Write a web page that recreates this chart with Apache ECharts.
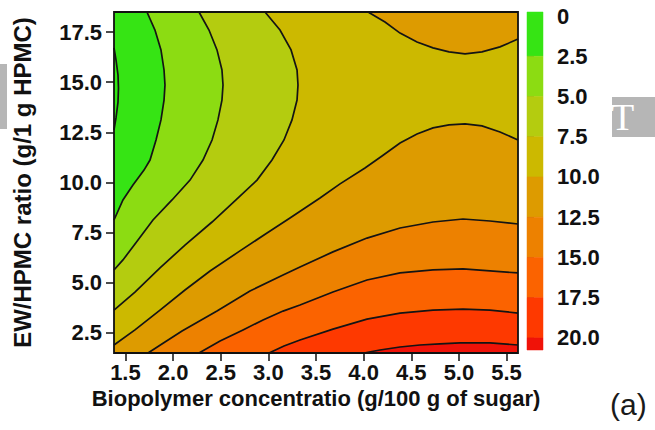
<!DOCTYPE html>
<html>
<head>
<meta charset="utf-8">
<script src="https://cdn.jsdelivr.net/npm/echarts@6/dist/echarts.min.js"></script>
<style>
  html, body { margin: 0; padding: 0; background: #ffffff; }
  #chart { width: 655px; height: 430px; }
</style>
</head>
<body>
<div id="chart"></div>
<script>
// Design space of the response surface
const X_MIN = 1.38, X_MAX = 5.62;
const Y_MIN = 1.5, Y_MAX = 18.5;
// Colour scale extent
const CB_MIN = -0.25, CB_MAX = 20.75;

const xTicks = [1.5, 2.0, 2.5, 3.0, 3.5, 4.0, 4.5, 5.0, 5.5];
const yTicks = [2.5, 5.0, 7.5, 10.0, 12.5, 15.0, 17.5];
const levels = [0, 2.5, 5.0, 7.5, 10.0, 12.5, 15.0, 17.5, 20.0];

// Band colours: below 0, 0-2.5, ..., 17.5-20, above 20
const bandColors = ['#33e814', '#36e414', '#8cdc12', '#b4cc0f', '#ccb900', '#dd9b00',
                    '#ed8100', '#fb6300', '#fe3900', '#f01208'];

// Iso-lines [biopolymer conc., EW/HPMC ratio]
const contour0 = [[1.38, 16.71], [1.401, 16.11], [1.422, 15.36], [1.427, 14.71], [1.422, 14.01],
  [1.401, 13.22], [1.38, 12.62]];
const contour2_5 = [[1.726, 18.5], [1.810, 17.60], [1.873, 16.61], [1.905, 15.61], [1.915, 14.86],
  [1.905, 14.11], [1.873, 13.12], [1.821, 12.12], [1.758, 11.12], [1.695, 10.62], [1.579, 9.88],
  [1.474, 9.13], [1.38, 8.13]];
const contour5 = [[2.272, 18.5], [2.377, 17.60], [2.461, 16.61], [2.513, 15.61], [2.524, 14.86],
  [2.513, 14.11], [2.471, 13.12], [2.409, 12.12], [2.314, 11.12], [2.178, 10.12], [1.989, 9.13],
  [1.789, 8.13], [1.632, 7.13], [1.474, 6.14], [1.38, 5.64]];
const contour7_5 = [[2.965, 18.5], [3.122, 17.60], [3.238, 16.61], [3.301, 15.61], [3.311, 14.86],
  [3.301, 14.11], [3.248, 13.12], [3.164, 12.12], [3.038, 11.12], [2.881, 10.12], [2.660, 9.13],
  [2.409, 8.03], [2.125, 6.88], [1.863, 5.74], [1.600, 4.54], [1.38, 3.64]];
const contour10Top = [[4.046, 18.5], [4.224, 18.00], [4.382, 17.45], [4.560, 17.00], [4.728, 16.71],
  [4.896, 16.51], [5.064, 16.41], [5.242, 16.51], [5.431, 16.76], [5.62, 17.15]];
const contour10Bottom = [[5.62, 12.12], [5.431, 12.52], [5.242, 12.82], [5.064, 12.92], [4.896, 12.87],
  [4.728, 12.72], [4.560, 12.42], [4.382, 11.97], [4.193, 11.32], [4.014, 10.72], [3.752, 9.93],
  [3.542, 9.23], [3.227, 8.23], [2.986, 7.48], [2.702, 6.59], [2.388, 5.59], [2.125, 4.64],
  [1.863, 3.64], [1.600, 2.65], [1.38, 1.90]];
const contour12_5 = [[5.62, 7.93], [5.326, 8.08], [5.043, 8.18], [4.728, 8.03], [4.382, 7.73],
  [4.035, 7.23], [3.678, 6.54], [3.332, 5.79], [3.154, 5.39], [2.807, 4.59], [2.461, 3.59],
  [2.094, 2.60], [1.915, 2.05], [1.737, 1.5]];
const contour15 = [[5.62, 5.49], [5.326, 5.59], [5.043, 5.69], [4.728, 5.64], [4.382, 5.49],
  [4.035, 5.14], [3.678, 4.54], [3.332, 3.89], [3.154, 3.59], [2.944, 3.15], [2.734, 2.65],
  [2.493, 2.10], [2.272, 1.5]];
const contour17_5 = [[5.62, 3.49], [5.326, 3.64], [5.043, 3.69], [4.728, 3.64], [4.382, 3.49],
  [4.035, 3.19], [3.678, 2.69], [3.332, 2.15], [3.164, 1.85], [3.007, 1.5]];
const contour20 = [[5.62, 1.90], [5.326, 2.00], [5.011, 2.00], [4.801, 1.95], [4.591, 1.90],
  [4.382, 1.80], [4.172, 1.65], [4.004, 1.5]];

const FONT = '"Liberation Sans", Arial, Helvetica, sans-serif';
const INK = '#111111';

const TL = [X_MIN, Y_MAX], TR = [X_MAX, Y_MAX], BR = [X_MAX, Y_MIN], BL = [X_MIN, Y_MIN];

// Filled bands, painted from low to high values (each region is {z > level})
const regions = [
  { band: 1, pts: [TL, TR, BR, BL] },
  { band: 0, pts: contour0 },
  { band: 2, pts: contour2_5.concat([BL, BR, TR]) },
  { band: 3, pts: contour5.concat([BL, BR, TR]) },
  { band: 4, pts: contour7_5.concat([BL, BR, TR]) },
  { band: 5, pts: contour10Top.concat([TR]) },
  { band: 5, pts: contour10Bottom.concat([BL, BR]) },
  { band: 6, pts: contour12_5.concat([BR]) },
  { band: 7, pts: contour15.concat([BR]) },
  { band: 8, pts: contour17_5.concat([BR]) },
  { band: 9, pts: contour20.concat([BR]) }
];
const isoLines = [contour0, contour2_5, contour5, contour7_5, contour10Top, contour10Bottom,
  contour12_5, contour15, contour17_5, contour20];

// Colour-bar segments between consecutive levels
const barEdges = [CB_MIN].concat(levels, [CB_MAX]);
const barBands = bandColors.map((c, i) => [0, barEdges[i], barEdges[i + 1]]);

const labelStyle = { fontFamily: FONT, fontWeight: 'bold', fontSize: 22, color: INK };

const chart = echarts.init(document.getElementById('chart'), null, { renderer: 'svg' });

chart.setOption({
  animation: false,
  backgroundColor: '#ffffff',
  grid: [
    { left: 114, top: 12, width: 404, height: 341 },
    { left: 527, top: 12, width: 16, height: 338 }
  ],
  xAxis: [
    {
      gridIndex: 0, type: 'value', min: X_MIN, max: X_MAX,
      name: 'Biopolymer concentratio (g/100 g of sugar)',
      nameLocation: 'middle', nameGap: 32,
      nameTextStyle: { fontFamily: FONT, fontWeight: 'bold', fontSize: 22, color: INK },
      axisLine: { show: false },
      axisTick: { show: true, length: 8, customValues: xTicks, lineStyle: { color: INK, width: 1.5 } },
      axisLabel: Object.assign({ customValues: xTicks, margin: 8, formatter: v => v.toFixed(1) }, labelStyle),
      splitLine: { show: false }
    },
    { gridIndex: 1, type: 'value', min: 0, max: 1, show: false }
  ],
  yAxis: [
    {
      gridIndex: 0, type: 'value', min: Y_MIN, max: Y_MAX,
      name: 'EW/HPMC ratio (g/1 g HPMC)',
      nameLocation: 'middle', nameGap: 80,
      nameTextStyle: { fontFamily: FONT, fontWeight: 'bold', fontSize: 24, color: INK },
      axisLine: { show: false },
      axisTick: { show: true, length: 8, customValues: yTicks, lineStyle: { color: INK, width: 1.5 } },
      axisLabel: Object.assign({ customValues: yTicks, margin: 12, formatter: v => v.toFixed(1) }, labelStyle),
      splitLine: { show: false }
    },
    {
      gridIndex: 1, type: 'value', inverse: true, min: CB_MIN, max: CB_MAX, position: 'right',
      axisLine: { show: false },
      axisTick: { show: true, length: 7, customValues: levels, lineStyle: { color: INK, width: 1.5 } },
      axisLabel: Object.assign({ customValues: levels, margin: 14,
        formatter: v => (v === 0 ? '0' : v.toFixed(1)) }, labelStyle),
      splitLine: { show: false }
    }
  ],
  series: [
    {
      name: 'bands', type: 'custom', xAxisIndex: 0, yAxisIndex: 0, silent: true, clip: true,
      data: regions.map((r, i) => [X_MIN, Y_MIN, i]),
      renderItem: (params, api) => {
        const r = regions[params.dataIndex];
        const c = bandColors[r.band];
        return {
          type: 'polygon',
          shape: { points: r.pts.map(p => api.coord(p)) },
          style: { fill: c, stroke: c, lineWidth: 0.6 }
        };
      }
    },
    {
      name: 'contours', type: 'custom', xAxisIndex: 0, yAxisIndex: 0, silent: true, clip: false,
      data: isoLines.map((l, i) => [X_MIN, Y_MIN, i]),
      renderItem: (params, api) => ({
        type: 'polyline',
        shape: { points: isoLines[params.dataIndex].map(p => api.coord(p)) },
        style: { stroke: '#141414', lineWidth: 1.7, fill: null }
      })
    },
    {
      name: 'frame', type: 'custom', xAxisIndex: 0, yAxisIndex: 0, silent: true, clip: false,
      data: [[X_MIN, Y_MIN]],
      renderItem: (params, api) => {
        const a = api.coord(TL), b = api.coord(BR);
        return {
          type: 'rect',
          shape: { x: a[0], y: a[1], width: b[0] - a[0], height: b[1] - a[1] },
          style: { stroke: INK, lineWidth: 1.8, fill: null }
        };
      }
    },
    {
      name: 'colour scale', type: 'custom', xAxisIndex: 1, yAxisIndex: 1, silent: true,
      data: barBands,
      renderItem: (params, api) => {
        const p0 = api.coord([0, api.value(1)]);
        const p1 = api.coord([1, api.value(2)]);
        const c = bandColors[params.dataIndex];
        return {
          type: 'rect',
          shape: { x: p0[0], y: Math.min(p0[1], p1[1]), width: p1[0] - p0[0], height: Math.abs(p1[1] - p0[1]) },
          style: { fill: c, stroke: c, lineWidth: 0.5 }
        };
      }
    }
  ],
  graphic: [
    { type: 'rect', left: 0, top: 64, shape: { width: 7, height: 65 }, style: { fill: '#b6b6b6' }, silent: true },
    { type: 'rect', left: 612, top: 97, shape: { width: 43, height: 40 }, style: { fill: '#b6b6b6' }, silent: true },
    { type: 'text', left: 611, top: 98, style: { text: 'T', fill: '#ffffff', font: '38px "Liberation Serif", "DejaVu Serif", serif' }, silent: true },
    { type: 'text', left: 610, top: 389, style: { text: '(a)', fill: '#1a1a1a', font: '30px "Liberation Sans", Arial, sans-serif' }, silent: true }
  ]
});
</script>
</body>
</html>
